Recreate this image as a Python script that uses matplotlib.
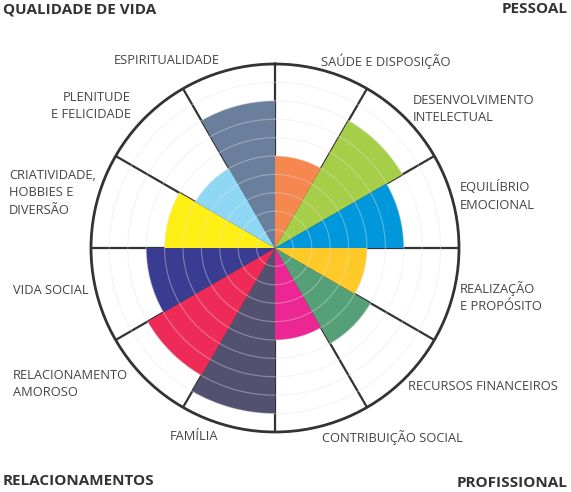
import numpy as np
import matplotlib
matplotlib.use("Agg")
import matplotlib.pyplot as plt

categories = ["SAÚDE E DISPOSIÇÃO", "DESENVOLVIMENTO\nINTELECTUAL", "EQUILÍBRIO\nEMOCIONAL",
              "REALIZAÇÃO\nE PROPÓSITO", "RECURSOS FINANCEIROS", "CONTRIBUIÇÃO SOCIAL",
              "FAMÍLIA", "RELACIONAMENTO\nAMOROSO", "VIDA SOCIAL",
              "CRIATIVIDADE,\nHOBBIES E\nDIVERSÃO", "PLENITUDE\nE FELICIDADE", "ESPIRITUALIDADE"]
values = [5, 8, 7, 5, 6, 5, 9, 8, 7, 6, 5, 8]
colors = ["#F5874F", "#A6CE48", "#0097DB", "#FFCA28", "#55A077", "#EC2794",
          "#535170", "#EE2B56", "#3A3C91", "#FFEF14", "#8ED8F5", "#6A7F9B"]
quadrants = ["PESSOAL", "PROFISSIONAL", "RELACIONAMENTOS", "QUALIDADE DE VIDA"]
max_value = 10

plt.rcParams['font.family'] = ['Open Sans', 'DejaVu Sans']

W, H = 571, 492
fig = plt.figure(figsize=(W / 100, H / 100), dpi=100)
cx, cy, R = 275, 248, 184
ax = fig.add_axes([(cx - R) / W, (H - cy - R) / H, 2 * R / W, 2 * R / H], projection='polar')
ax.set_theta_zero_location('N')
ax.set_theta_direction(-1)

n = len(values)
width = 2 * np.pi / n
thetas = np.arange(n) * width + width / 2

ax.bar(thetas, values, width=width, bottom=0, color=colors, edgecolor='none',
       linewidth=0, zorder=3, align='center')

# dividers
for k in range(n):
    t = k * width
    ax.plot([t, t], [0, max_value], color='#333333', lw=1.6, zorder=2, solid_capstyle='butt')

# faint rings
tt = np.linspace(0, 2 * np.pi, 400)
for r in range(1, max_value):
    ax.plot(tt, np.full_like(tt, r), color='#e4e4e4', lw=0.8, alpha=0.4, zorder=4)

ax.set_ylim(0, max_value)
ax.set_xticks([])
ax.set_yticks([])
ax.grid(False)
ax.spines['polar'].set_color('#333333')
ax.spines['polar'].set_linewidth(2)

label_col = '#444444'
fs = 9.3

def px(x, y):
    return x / W, 1 - y / H

label_pos = [
    (321, 61, 'left'),
    (413, 109, 'left'),
    (460, 196, 'left'),
    (460, 297, 'left'),
    (408, 387, 'left'),
    (322, 438, 'left'),
    (170, 436, 'left'),
    (13, 384, 'left'),
    (13, 290, 'left'),
    (9, 193, 'left'),
    (131, 106, 'right'),
    (220, 61, 'right'),
]
for lab, (x, y, ha) in zip(categories, label_pos):
    fig.text(*px(x, y), lab, ha=ha, va='center', fontsize=fs, color=label_col,
             linespacing=1.42, multialignment=ha)

quad_pos = [(568, 9, 'right'), (568, 483, 'right'), (3, 481, 'left'), (3, 9, 'left')]
for lab, (x, y, ha) in zip(quadrants, quad_pos):
    fig.text(*px(x, y), lab, ha=ha, va='center', fontsize=11, color='#333333',
             fontweight='bold')

fig.savefig('out.png', dpi=100)
